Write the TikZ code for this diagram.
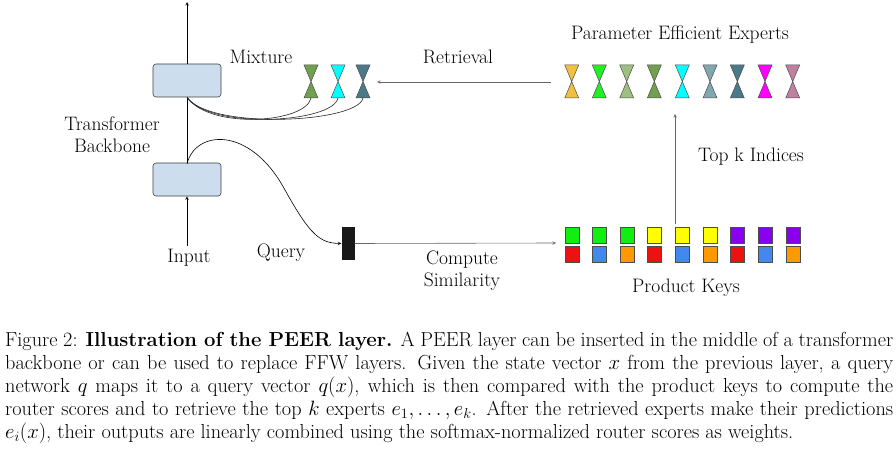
\documentclass[tikz,border=0pt]{standalone}
\usepackage{amsmath}
\usetikzlibrary{calc}
\begin{document}
\begin{tikzpicture}[x=1pt,y=-1pt,
  lbl/.style={font=\fontsize{19.5}{22}\selectfont, align=center, inner sep=0},
  blk/.style={draw=black!75, fill=bxc, rounded corners=3pt, minimum width=68pt, minimum height=33pt, line width=0.6pt},
  ar/.style={-stealth, draw=black!60, line width=0.6pt},
  hg/.style={draw=black!70, line width=0.5pt}]
\useasboundingbox (0,0) rectangle (896,449);
\definecolor{bxc}{HTML}{CCDDEE}
\definecolor{cA}{HTML}{F0C040}\definecolor{cB}{HTML}{22EE22}\definecolor{cC}{HTML}{9DBF80}
\definecolor{cD}{HTML}{70A050}\definecolor{cE}{HTML}{00FFFF}\definecolor{cF}{HTML}{80A8B0}
\definecolor{cG}{HTML}{4A7A88}\definecolor{cH}{HTML}{FF00FF}\definecolor{cI}{HTML}{C080A0}
\definecolor{kG}{HTML}{11EE11}\definecolor{kY}{HTML}{FFFF00}\definecolor{kP}{HTML}{8800EE}
\definecolor{kR}{HTML}{EE1111}\definecolor{kB}{HTML}{4488EE}\definecolor{kO}{HTML}{FF9900}
\newcommand{\hourglass}[3]{% x, ytop, color
  \filldraw[hg, fill=#3] (#1-7,#2) -- (#1+7,#2) -- (#1,#2+16.5) -- cycle;
  \filldraw[hg, fill=#3] (#1-7,#2+33) -- (#1+7,#2+33) -- (#1,#2+16.5) -- cycle;}
% blocks
\node[blk] (b1) at (187,80.5) {};
\node[blk] (b2) at (187,179.5) {};
\coordinate (top) at (187,2);
\coordinate (inp) at (187,246);
\draw[ar, draw=black] (b1.north) -- (top);
\draw[ar, draw=black] (inp) -- (b2.south);
\draw[black, line width=0.6pt] (b2.north) -- (b1.south);
% mixture experts
\hourglass{311}{65}{cD}
\hourglass{338}{65}{cE}
\hourglass{363}{65}{cG}
\coordinate (m1) at (311,98);\coordinate (m2) at (338,98);\coordinate (m3) at (363,98);
\foreach \m in {m1,m2,m3}
  \draw[black!85, line width=0.6pt] (\m) .. controls ($(\m)+(-5,25)$) and (210,130) .. (b1.south);
% experts
\foreach \x/\c [count=\i] in {571.7/cA,599.3/cB,626.7/cC,654.3/cD,682.3/cE,710/cF,737.3/cG,765/cH,792.7/cI}
  \hourglass{\x}{65}{\c}
\coordinate (e0) at (551,82);\coordinate (mx) at (377,82);
\draw[ar] (e0) -- (mx);
% keys
\foreach \x/\c/\d in {571.7/kG/kR,599.3/kG/kB,626.7/kG/kO,654.3/kY/kR,682.3/kY/kB,710/kY/kO,737.3/kP/kR,765/kP/kB,792.7/kP/kO}{
  \filldraw[draw=black!70, fill=\c] (\x-7,227) rectangle (\x+7,243);
  \filldraw[draw=black!70, fill=\d] (\x-7,246) rectangle (\x+7,262);}
% query
\node[fill=black!90, minimum width=13pt, minimum height=33pt, inner sep=0] (q) at (348,243.5) {};
\coordinate (qs) at (187,164);
\draw[-stealth, black, line width=0.6pt] (qs) .. controls (195,130) and (250,125) .. (285,190) .. controls (310,235) and (320,243) .. (q.west);
\coordinate (k0) at (556,243);
\draw[ar] (q.east) -- (k0);
\coordinate (t1) at (675,224);\coordinate (t2) at (675,114);
\draw[ar] (t1) -- (t2);
% labels
\node[lbl] (l1) at (261,57) {Mixture};
\node[lbl] (l2) at (458,57) {Retrieval};
\node[lbl] (l3) at (680,35) {Parameter Efficient Experts};
\node[lbl] (l4) at (112,135) {Transformer\\Backbone};
\node[lbl] (l5) at (751,157) {Top k Indices};
\node[lbl] (l6) at (189,258) {Input};
\node[lbl] (l7) at (281,253) {Query};
\node[lbl] (l8) at (462,271) {Compute\\Similarity};
\node[lbl] (l9) at (686,288) {Product Keys};
% caption
\node[anchor=north west, inner sep=0, text width=888pt, align=justify,
  font=\fontsize{20.3}{23}\selectfont] (cap) at (5,332)
{Figure 2: \textbf{Illustration of the PEER layer.} A PEER layer can be inserted in the middle of a transformer\linebreak
backbone or can be used to replace FFW layers. Given the state vector $x$ from the previous layer, a query\linebreak
network $q$ maps it to a query vector $q(x)$, which is then compared with the product keys to compute the\linebreak
router scores and to retrieve the top $k$ experts $e_1, \ldots, e_k$. After the retrieved experts make their predictions\linebreak
$e_i(x)$, their outputs are linearly combined using the softmax-normalized router scores as weights.};
\end{tikzpicture}
\end{document}
